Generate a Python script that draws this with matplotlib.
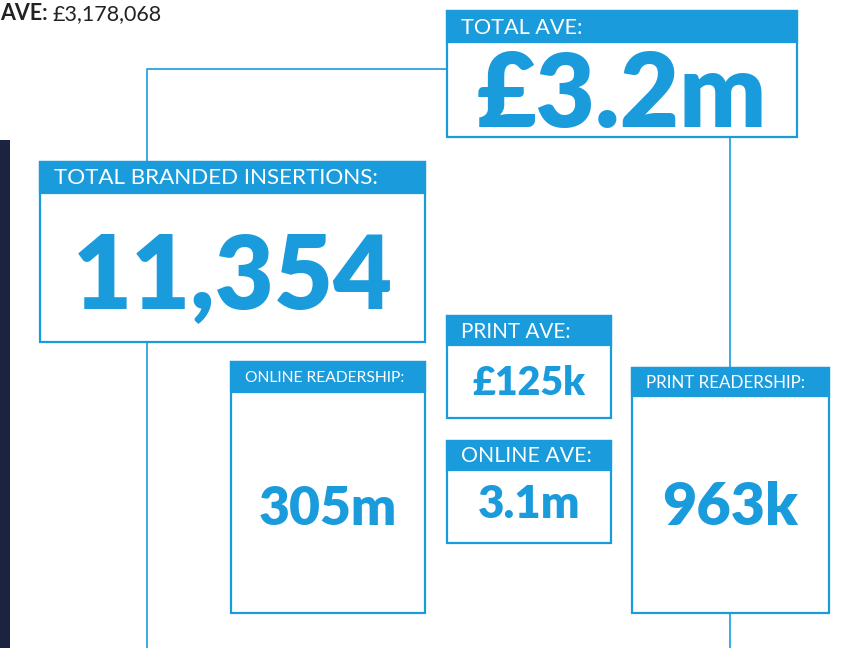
import matplotlib
matplotlib.use('Agg')
import matplotlib.pyplot as plt
from matplotlib.patches import Rectangle

BLUE = '#1a9bdc'
NAVY = '#1b2341'

# ---------------------------------------------------------------------
# data
# ---------------------------------------------------------------------
headline_label = 'AVE:'
headline_value = '£3,178,068'
labels = ['TOTAL AVE:', 'TOTAL BRANDED INSERTIONS:', 'PRINT AVE:',
          'ONLINE AVE:', 'ONLINE READERSHIP:', 'PRINT READERSHIP:']
values = ['£3.2m', '11,354', '£125k', '3.1m', '305m', '963k']

# ---------------------------------------------------------------------
# layout (pixel coordinates, y downwards)
# box: x0, y0, x1, y1, header height, header text width, value width,
#      value baseline
# ---------------------------------------------------------------------
boxes = [
    (447, 11, 797, 137, 31, 121, 291, 127),
    (40, 162, 425, 342, 31, 324, 320, 308),
    (447, 316, 611, 418, 29, 110, 113, 395),
    (447, 441, 611, 543, 29, 130, 103, 518),
    (231, 362, 425, 613, 30, 160, 138, 525),
    (632, 368, 829, 613, 28, 160, 136, 525),
]

W, H = 843, 648
fig = plt.figure(figsize=(W/100, H/100), dpi=100)
ax = fig.add_axes([0, 0, 1, 1])
ax.set_xlim(0, W)
ax.set_ylim(H, 0)
ax.axis('off')
renderer = fig.canvas.get_renderer()


def fit_text(x, y, s, width, ha='left', va='center', **kw):
    """Place text and rescale its font so it spans `width` pixels."""
    t = ax.text(x, y, s, ha=ha, va=va, fontsize=20, **kw)
    w = t.get_window_extent(renderer).width
    t.set_fontsize(20*width/w)
    return t


# dark strip on the left
ax.add_patch(Rectangle((0, 140), 10, H-140, color=NAVY, lw=0))

# connector lines
ax.plot([447, 147, 147], [69, 69, 162], color=BLUE, lw=1.2)
ax.plot([147, 147], [342, H], color=BLUE, lw=1.2)
ax.plot([730, 730], [137, 368], color=BLUE, lw=1.2)
ax.plot([730, 730], [613, H], color=BLUE, lw=1.2)

for lab, val, (x0, y0, x1, y1, hh, hw, vw, vy) in zip(labels, values, boxes):
    ax.add_patch(Rectangle((x0, y0), x1-x0, y1-y0, facecolor='white',
                           edgecolor=BLUE, lw=1.6, zorder=2))
    ax.add_patch(Rectangle((x0, y0), x1-x0, hh, facecolor=BLUE,
                           edgecolor=BLUE, lw=1.6, zorder=3))
    fit_text(x0+14, y0+hh/2+1, lab, hw, color='white', family='Lato',
             zorder=4)
    fit_text((x0+x1)/2, vy, val, vw, ha='center', va='baseline',
             color=BLUE, family='Lato', weight='heavy', zorder=4)

# headline text top left
t1 = ax.text(0, 20, headline_label, ha='left', va='baseline', fontsize=15.5,
             family='Lato', weight='bold', color='#222222')
bb = t1.get_window_extent(renderer)
ax.text(bb.x1 + 5, 20, headline_value, ha='left', va='baseline',
        fontsize=15.5, family='Lato', color='#222222')

fig.savefig('out.png', dpi=100)
